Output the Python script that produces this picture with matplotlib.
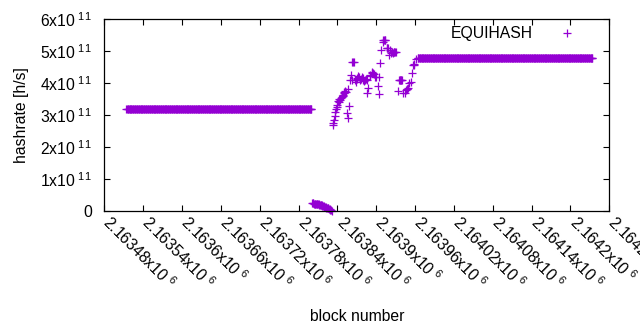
import numpy as np
import matplotlib
matplotlib.use('Agg')
import matplotlib.pyplot as plt
import matplotlib.transforms as mtransforms

plt.rcParams['font.family'] = ['Liberation Sans', 'DejaVu Sans']
plt.rcParams['mathtext.fontset'] = 'custom'
plt.rcParams['mathtext.rm'] = 'Liberation Sans'

# Hashrate in units of 1e11 h/s
# flat stretches: one point per block at a constant level
flat1_start, flat1_end, flat1_level = 2163514, 2163800, 3.18
flat2_start, flat2_end, flat2_level = 2163964, 2164234, 4.78

# drop right after the first stretch (one point per block)
drop_blocks = list(range(2163801, 2163832))
drop_values = [0.232, 0.23, 0.228, 0.225, 0.222, 0.22, 0.215, 0.21, 0.205, 0.20,
               0.195, 0.19, 0.185, 0.18, 0.175, 0.17, 0.16, 0.15, 0.14, 0.13,
               0.12, 0.11, 0.10, 0.09, 0.08, 0.07, 0.06, 0.045, 0.03, 0.015, 0.005]

# noisy transition region
mid_blocks = [2163833, 2163834, 2163835, 2163836, 2163837, 2163838, 2163839, 2163840,
              2163841, 2163842, 2163843, 2163844, 2163845, 2163847, 2163848, 2163849,
              2163850, 2163851, 2163852, 2163853, 2163855, 2163856, 2163857, 2163858,
              2163860, 2163861, 2163862, 2163863, 2163864, 2163865, 2163867, 2163868,
              2163870, 2163871, 2163872, 2163873, 2163875, 2163876, 2163878, 2163879,
              2163880, 2163881, 2163883, 2163884, 2163885, 2163886, 2163888, 2163890,
              2163891, 2163893, 2163894, 2163895, 2163896, 2163898, 2163900, 2163902,
              2163904, 2163905, 2163906, 2163908, 2163910, 2163911, 2163912, 2163913,
              2163914, 2163916, 2163917, 2163918, 2163920, 2163921, 2163923, 2163925,
              2163926, 2163927, 2163928, 2163929, 2163931, 2163933, 2163935, 2163936,
              2163937, 2163938, 2163939, 2163940, 2163942, 2163944, 2163946, 2163947,
              2163948, 2163949, 2163951, 2163953, 2163955, 2163957, 2163958, 2163959,
              2163961]
mid_values = [2.69, 2.75, 2.85, 2.97, 3.10, 3.18, 3.26, 3.30,
              3.45, 3.49, 3.42, 3.47, 3.52, 3.55, 3.60, 3.63,
              3.70, 3.72, 3.76, 3.73, 3.05, 2.90, 3.80, 3.28,
              4.10, 4.25, 4.10, 4.67, 4.67, 4.66, 4.10, 4.05,
              4.15, 4.12, 4.22, 4.18, 4.10, 4.12, 4.18, 4.15,
              4.10, 4.08, 4.10, 4.12, 4.10, 3.68, 3.84, 4.25,
              4.22, 4.36, 4.33, 4.31, 4.30, 4.20, 4.20, 3.91,
              3.65, 4.18, 4.62, 5.04, 5.30, 5.35, 5.35, 5.34,
              5.35, 5.09, 5.10, 5.09, 4.88, 5.04, 4.95, 4.97,
              4.95, 4.96, 4.97, 4.97, 4.97, 3.75, 4.10, 4.10,
              4.11, 4.10, 4.10, 4.10, 3.68, 3.70, 3.78, 3.80,
              3.82, 3.84, 3.99, 4.04, 4.31, 4.57, 4.57, 4.60,
              4.75]

x_ticks = np.arange(2163480, 2164261, 60)
y_ticks = [0, 1e11, 2e11, 3e11, 4e11, 5e11, 6e11]

color = '#9400d3'

blocks = np.concatenate([np.arange(flat1_start, flat1_end + 1), drop_blocks, mid_blocks,
                         np.arange(flat2_start, flat2_end + 1)])
values = np.concatenate([np.full(flat1_end - flat1_start + 1, flat1_level), drop_values, mid_values,
                         np.full(flat2_end - flat2_start + 1, flat2_level)]) * 1e11

fig = plt.figure(figsize=(6.4, 3.3), dpi=100)
ax = fig.add_axes([104.3 / 640, 1 - 210.7 / 330, 505 / 640, 191.4 / 330])

ax.plot(blocks, values, '+', color=color, markersize=5.2, markeredgewidth=0.9,
        label='EQUIHASH', clip_on=False)

ax.set_xlim(2163480, 2164260)
ax.set_ylim(0, 6e11)
ax.set_xticks(x_ticks)
ax.set_yticks(y_ticks)
ax.set_xticklabels([r'$\mathregular{%gx10^{\ 6}}$' % (v / 1e6) for v in x_ticks])
ax.set_yticklabels(['0'] + [r'$\mathregular{%dx10^{\ 11}}$' % int(v / 1e11) for v in y_ticks[1:]])

ax.tick_params(direction='in', length=4, width=0.8, top=True, right=True, labelsize=11.3)
ax.tick_params(axis='y', pad=9)
ax.tick_params(axis='x', pad=6)
for lab in ax.get_xticklabels():
    lab.set_rotation(-45)
    lab.set_ha('left')
    lab.set_va('center')
    lab.set_rotation_mode('anchor')
    lab.set_transform(lab.get_transform() + mtransforms.ScaledTranslation(1.5 / 72, 0, fig.dpi_scale_trans))
for s in ax.spines.values():
    s.set_linewidth(0.9)

ax.set_xlabel('block number', fontsize=11.3, labelpad=12)
ax.set_ylabel('hashrate [h/s]', fontsize=11.3, labelpad=8)

ax.legend(loc='upper right', bbox_to_anchor=(0.947, 0.964), borderaxespad=0, borderpad=0,
          markerfirst=False, frameon=False, handletextpad=1.17, handlelength=2,
          fontsize=11.3, numpoints=1)

fig.savefig('out.png', dpi=100)
